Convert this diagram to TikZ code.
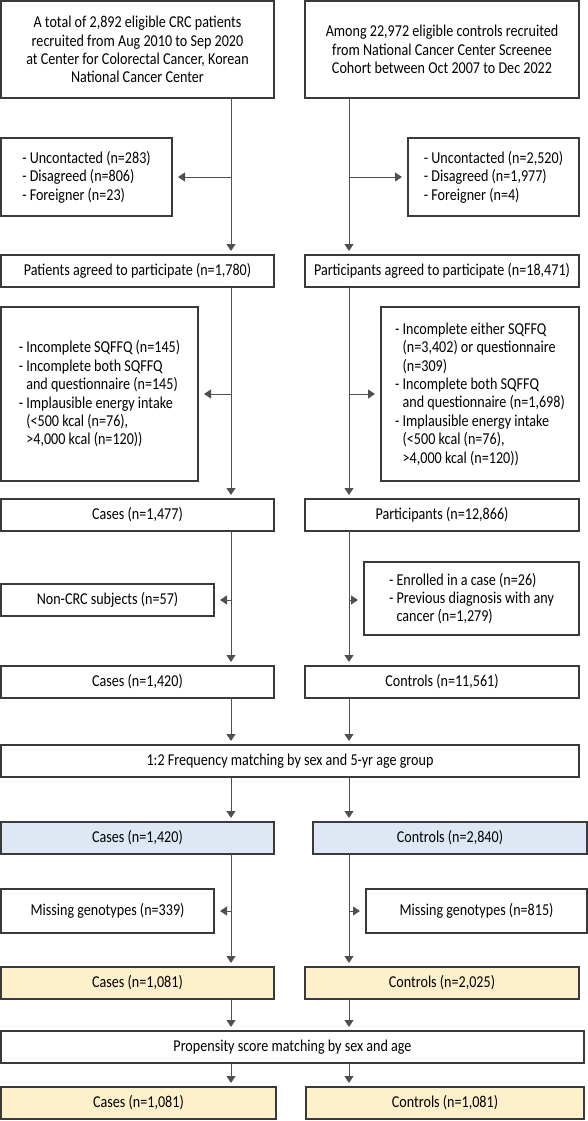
\documentclass[tikz,border=0pt]{standalone}
\usepackage{fontspec}
\setmainfont{Carlito}[FakeStretch=0.85]
\usetikzlibrary{arrows.meta,positioning}
\definecolor{matchblue}{HTML}{DDE8F4}
\definecolor{genoyellow}{HTML}{FFF0CC}
\definecolor{framegray}{HTML}{3A3A3A}
\definecolor{linegray}{HTML}{505050}
\newcommand{\dashind}{\phantom{- }}

\begin{document}
\begin{tikzpicture}[x=1pt, y=-1pt, >={Triangle[length=7pt, width=9pt]},
  font=\fontsize{16.6}{18.4}\selectfont,
  box/.style={draw=framegray, line width=1.2pt, align=center, inner xsep=1pt, inner ysep=2pt, outer sep=0pt, minimum height=32pt},
  note/.style={box, align=left},
  matched/.style={box, fill=matchblue},
  genotyped/.style={box, fill=genoyellow},
  flow/.style={->, draw=linegray, line width=0.9pt, shorten >=4pt},
  side/.style={flow, shorten >=6pt}]
\useasboundingbox (0,0) rectangle (588,1121);
\coordinate (lt) at (231,0);
\coordinate (rt) at (349,0);
% recruitment
\node[box, minimum width=273pt, minimum height=97pt, anchor=north west] (pat) at (1,1) {A total of 2,892 eligible CRC patients\\ recruited from Aug 2010 to Sep 2020\\ at Center for Colorectal Cancer, Korean\\ National Cancer Center};
\node[box, minimum width=274pt, minimum height=97pt, right=31pt of pat] (ctl) {Among 22,972 eligible controls recruited\\ from National Cancer Center Screenee\\ Cohort between Oct 2007 to Dec 2022};
\node[note, minimum width=171pt, minimum height=78pt, below=40pt of pat.south west, anchor=north west] (patx) {- Uncontacted (n=283)\\ - Disagreed (n=806)\\ - Foreigner (n=23)};
\node[note, minimum width=171pt, minimum height=78pt, below=40pt of ctl.south east, anchor=north east] (ctlx) {- Uncontacted (n=2,520)\\ - Disagreed (n=1,977)\\ - Foreigner (n=4)};
\node[box, minimum width=273pt, below=39pt of patx.south west, anchor=north west] (agr) {Patients agreed to participate (n=1,780)};
\node[box, minimum width=274pt, right=31pt of agr] (par) {Participants agreed to participate (n=18,471)};
% questionnaires
\node[note, minimum width=197pt, minimum height=174pt, below=20pt of agr.south west, anchor=north west] (agrx) {- Incomplete SQFFQ (n=145)\\ - Incomplete both SQFFQ\\ \dashind and questionnaire (n=145)\\ - Implausible energy intake\\ \dashind (<500 kcal (n=76),\\ \dashind >4,000 kcal (n=120))};
\node[note, minimum width=198pt, minimum height=174pt, below=20pt of par.south east, anchor=north east] (parx) {- Incomplete either SQFFQ\\ \dashind (n=3,402) or questionnaire\\ \dashind (n=309)\\ - Incomplete both SQFFQ\\ \dashind and questionnaire (n=1,698)\\ - Implausible energy intake\\ \dashind (<500 kcal (n=76),\\ \dashind >4,000 kcal (n=120))};
\node[box, minimum width=273pt, below=18pt of agrx.south west, anchor=north west] (cas1) {Cases (n=1,477)};
\node[box, minimum width=274pt, right=31pt of cas1] (par2) {Participants (n=12,866)};
\node[box, minimum width=213pt, below=53pt of cas1.south west, anchor=north west] (ncrc) {Non-CRC subjects (n=57)};
\node[note, minimum width=215pt, minimum height=73pt, below=31pt of par2.south east, anchor=north east] (enr) {- Enrolled in a case (n=26)\\ - Previous diagnosis with any\\ \dashind cancer (n=1,279)};
\node[box, minimum width=273pt, below=50pt of ncrc.south west, anchor=north west] (cas2) {Cases (n=1,420)};
\node[box, minimum width=274pt, right=31pt of cas2] (ctl2) {Controls (n=11,561)};
% matching and genotyping
\node[box, minimum width=578pt, below=47pt of cas2.south west, anchor=north west] (freq) {1:2 Frequency matching by sex and 5-yr age group};
\node[matched, minimum width=273pt, below=45pt of freq.south west, anchor=north west] (cas3) {Cases (n=1,420)};
\node[matched, minimum width=274pt, right=39pt of cas3] (ctl3) {Controls (n=2,840)};
\node[box, minimum width=213pt, minimum height=44pt, below=35pt of cas3.south west, anchor=north west] (mis1) {Missing genotypes (n=339)};
\node[box, minimum width=221pt, minimum height=44pt, below=35pt of ctl3.south east, anchor=north east] (mis2) {Missing genotypes (n=815)};
\node[genotyped, minimum width=273pt, below=34pt of mis1.south west, anchor=north west] (cas4) {Cases (n=1,081)};
\node[genotyped, minimum width=274pt, right=31pt of cas4] (ctl4) {Controls (n=2,025)};
\node[box, minimum width=583pt, below=32pt of cas4.south west, anchor=north west] (psm) {Propensity score matching by sex and age};
\node[genotyped, minimum width=275pt, below=24pt of psm.south west, anchor=north west] (cas5) {Cases (n=1,081)};
\node[genotyped, minimum width=278pt, right=30pt of cas5] (ctl5) {Controls (n=1,081)};
% connectors
\foreach \a/\b in {pat/agr, agr/cas1, cas1/cas2, cas2/freq, freq/cas3, cas3/cas4, cas4/psm, psm/cas5}
  \draw[flow] (\a.south -| lt) -- (\b.north -| lt);
\foreach \a/\b in {ctl/par, par/par2, par2/ctl2, ctl2/freq, freq/ctl3, ctl3/ctl4, ctl4/psm, psm/ctl5}
  \draw[flow] (\a.south -| rt) -- (\b.north -| rt);
\foreach \x in {patx, agrx, ncrc, mis1}
  \draw[side] (\x.east -| lt) -- (\x.east);
\foreach \x in {ctlx, parx, mis2}
  \draw[side] (\x.west -| rt) -- (\x.west);
\draw[side] (ncrc.east -| rt) -- (ncrc.east -| enr.west);
\end{tikzpicture}
\end{document}
